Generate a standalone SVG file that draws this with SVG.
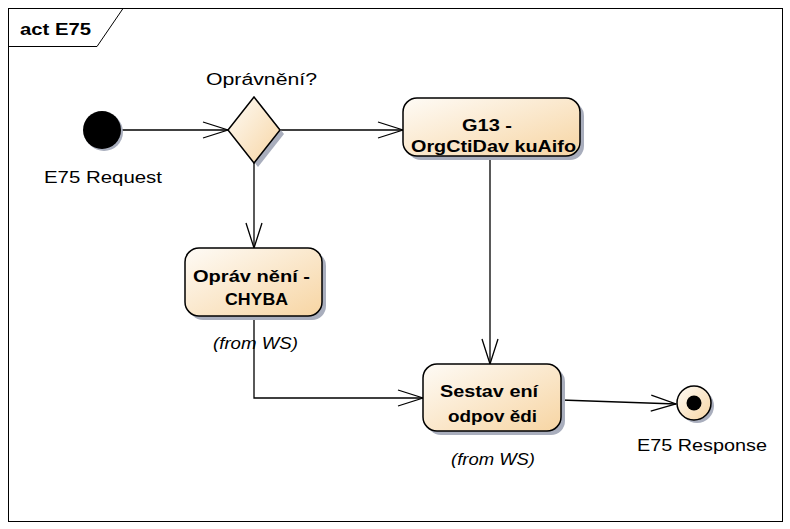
<svg xmlns="http://www.w3.org/2000/svg" width="790" height="529" viewBox="0 0 790 529">
<style>
text{font-family:"Liberation Sans",Arial,sans-serif;fill:#000}
.lbl{font-size:16px}
.nt{font-size:16px;font-weight:bold}
.it{font-size:16px;font-style:italic}
.edge{fill:none;stroke:#000;stroke-width:1.3}
.node{fill:url(#g);stroke:#000;stroke-width:1.5}
.sh{fill:#a9aebd}
</style>
<defs>
<linearGradient id="g" x1="0" y1="0" x2="1" y2="1">
<stop offset="0" stop-color="#fefbf6"/>
<stop offset="1" stop-color="#f7d5a3"/>
</linearGradient>
<marker id="a" markerWidth="28" markerHeight="20" refX="26" refY="10" orient="auto" markerUnits="userSpaceOnUse">
<path d="M1,2 L26,10 L1,18" fill="none" stroke="#000" stroke-width="1.3"/>
</marker>
</defs>
<rect x="0" y="0" width="790" height="529" fill="#fff"/>
<g id="frame">
<rect x="8.5" y="8.5" width="774" height="513" fill="none" stroke="#000" stroke-width="1"/>
<path d="M8.5,46.5 H97 L123,8.5" fill="none" stroke="#000" stroke-width="1"/>
<text x="20" y="35" class="nt" textLength="71" lengthAdjust="spacingAndGlyphs">act E75</text>
</g>
<g id="connectors">
<line class="edge" x1="121" y1="130" x2="228" y2="130" marker-end="url(#a)"/>
<line class="edge" x1="280" y1="130" x2="403" y2="130" marker-end="url(#a)"/>
<line class="edge" x1="254" y1="163" x2="254" y2="248" marker-end="url(#a)"/>
<line class="edge" x1="490" y1="156" x2="490" y2="364" marker-end="url(#a)"/>
<polyline class="edge" points="254,316 254,398 423,398" marker-end="url(#a)"/>
<line class="edge" x1="561" y1="400" x2="676" y2="404" marker-end="url(#a)"/>
</g>
<g id="initial">
<circle cx="104" cy="132" r="19" class="sh"/>
<circle cx="102" cy="130" r="19" fill="#000"/>
<text class="lbl" x="44" y="183" textLength="118" lengthAdjust="spacingAndGlyphs">E75 Request</text>
</g>
<g id="decision">
<path d="M258,101 L284,134 L258,167 L232,134 Z" class="sh"/>
<path d="M254,97 L280,130 L254,163 L228,130 Z" class="node"/>
<text class="lbl" x="206" y="85" textLength="111" lengthAdjust="spacingAndGlyphs">Oprávnění?</text>
</g>
<g id="g13">
<rect x="407" y="102" width="177" height="58" rx="14" class="sh"/>
<rect x="403" y="98" width="177" height="58" rx="14" class="node"/>
<text class="nt" x="462" y="131" textLength="50" lengthAdjust="spacingAndGlyphs">G13 -</text>
<text class="nt" x="411" y="152" textLength="165" lengthAdjust="spacingAndGlyphs">OrgCtiDav kuAifo</text>
</g>
<g id="chyba">
<rect x="189" y="252" width="137" height="68" rx="14" class="sh"/>
<rect x="185" y="248" width="137" height="68" rx="14" class="node"/>
<text class="nt" x="193" y="282" textLength="117" lengthAdjust="spacingAndGlyphs">Opráv nění -</text>
<text class="nt" x="225" y="305" textLength="63" lengthAdjust="spacingAndGlyphs">CHYBA</text>
<text class="it" x="213" y="349" textLength="85" lengthAdjust="spacingAndGlyphs">(from WS)</text>
</g>
<g id="sestaveni">
<rect x="427" y="368" width="138" height="67" rx="14" class="sh"/>
<rect x="423" y="364" width="138" height="67" rx="14" class="node"/>
<text class="nt" x="440" y="397" textLength="98" lengthAdjust="spacingAndGlyphs">Sestav ení</text>
<text class="nt" x="448" y="422" textLength="89" lengthAdjust="spacingAndGlyphs">odpov ědi</text>
<text class="it" x="451" y="465" textLength="84" lengthAdjust="spacingAndGlyphs">(from WS)</text>
</g>
<g id="final">
<circle cx="697" cy="406" r="17" class="sh"/>
<circle cx="694" cy="403" r="17" class="node"/>
<circle cx="694" cy="403" r="7.5" fill="#000"/>
<text class="lbl" x="637" y="451" textLength="130" lengthAdjust="spacingAndGlyphs">E75 Response</text>
</g>
</svg>
